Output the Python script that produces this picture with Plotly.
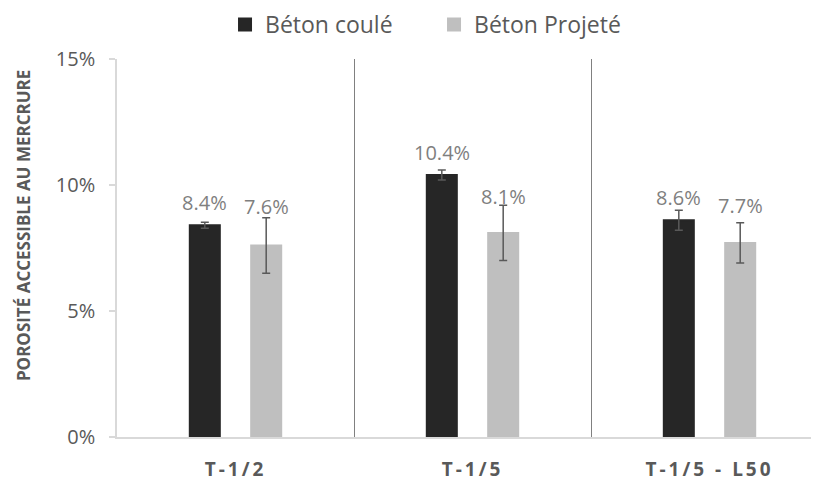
import plotly.graph_objects as go

categories = ["T-1/2", "T-1/5", "T-1/5 - L50"]
coule = [8.4, 10.4, 8.6]
coule_err = [0.12, 0.2, 0.4]
projete = [7.6, 8.1, 7.7]
projete_err = [1.1, 1.1, 0.8]
yticks = [0, 5, 10, 15]
ytick_labels = ["0%", "5%", "10%", "15%"]
y_title = "POROSITÉ ACCESSIBLE AU MERCRURE"

label_shift_coule = [20, 17, 13]
label_shift_projete = [11, 9, 17]

DARK = "#262626"
LIGHT = "#bfbfbf"
TXT = "#595959"
LBL = "#7f7f7f"
FONT = "Open Sans"

fig = go.Figure()
fig.add_trace(go.Bar(
    name="Béton coulé", x=categories, y=coule, marker_color=DARK,
    marker_line=dict(width=2, color=DARK),
    error_y=dict(type="data", array=coule_err, color="#595959", thickness=1.5, width=4),
))
fig.add_trace(go.Bar(
    name="Béton Projeté", x=categories, y=projete, marker_color=LIGHT,
    marker_line=dict(width=2, color=LIGHT),
    error_y=dict(type="data", array=projete_err, color="#595959", thickness=1.5, width=4),
))

for i, c in enumerate(categories):
    fig.add_annotation(x=c, y=coule[i] + coule_err[i], text=f"{coule[i]:.1f}%", showarrow=False,
                       xshift=-30.7, yshift=label_shift_coule[i], yanchor="middle",
                       font=dict(family=FONT, size=20, color=LBL))
    fig.add_annotation(x=c, y=projete[i] + projete_err[i], text=f"{projete[i]:.1f}%", showarrow=False,
                       xshift=30.7, yshift=label_shift_projete[i], yanchor="middle",
                       font=dict(family=FONT, size=20, color=LBL))

fig.add_annotation(xref="paper", yref="paper", x=-0.1339, y=0.558, text=y_title, textangle=-90,
                   showarrow=False, xanchor="center", yanchor="middle",
                   font=dict(family=FONT, size=17, color=TXT, weight="bold"))

xtick_text = [f'<span style="letter-spacing:3px">{c}</span>' for c in categories]

fig.update_layout(
    width=811, height=473,
    margin=dict(l=109, r=0, t=51, b=44, autoexpand=False),
    paper_bgcolor="white", plot_bgcolor="white",
    barmode="group", bargap=0.482, bargroupgap=0.511,
    font=dict(family=FONT, color=TXT),
    showlegend=True,
    legend=dict(orientation="h", xref="container", yref="paper", x=0.2676, y=1.148,
                xanchor="left", yanchor="top", font=dict(size=23, color=TXT, family=FONT),
                itemwidth=30, entrywidth=164, tracegroupgap=0, borderwidth=0),
    xaxis=dict(
        range=[-0.5, 2.462], showgrid=True, gridcolor="#808080", gridwidth=1.3,
        tickson="boundaries", ticks="", showline=True, linecolor="#d9d9d9", linewidth=1.5,
        tickmode="array", tickvals=categories, ticktext=xtick_text,
        tickfont=dict(family=FONT, size=19, color=TXT, weight="bold"),
        tickangle=0, ticklabelstandoff=14, automargin=False,
    ),
    yaxis=dict(
        range=[0, 15], tickvals=yticks, ticktext=ytick_labels,
        showgrid=False, zeroline=False, showline=True, linecolor="#d9d9d9", linewidth=1.5,
        ticks="outside", ticklen=6, tickcolor="#d9d9d9", tickwidth=1.5,
        tickfont=dict(family=FONT, size=20, color=TXT), ticklabelstandoff=10,
        automargin=False,
    ),
)

fig.write_html("out.html")
